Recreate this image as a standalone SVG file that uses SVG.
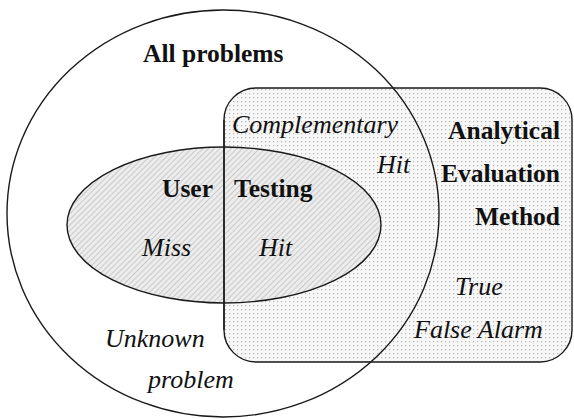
<svg xmlns="http://www.w3.org/2000/svg" width="574" height="419" viewBox="0 0 574 419">
<defs>
<pattern id="dots" width="4" height="4" patternUnits="userSpaceOnUse">
<rect width="4" height="4" fill="#f7f7f7"/>
<rect x="1" y="1" width="1.2" height="1.2" fill="#b8b8b8"/>
</pattern>
<pattern id="hatch" width="4" height="4" patternUnits="userSpaceOnUse" patternTransform="rotate(45)">
<rect width="4" height="4" fill="#ececec"/>
<line x1="0" y1="0" x2="0" y2="4" stroke="#a8a8a8" stroke-width="1"/>
</pattern>
<style>
.edge{fill:none;stroke:#1a1a1a;stroke-width:1.4}
text{font-family:'Liberation Serif','Times New Roman',Times,serif;fill:#111}
.b{font-weight:bold;font-size:25.5px}
.i{font-style:italic;font-size:26px}
.e{text-anchor:end}
</style>
</defs>
<rect width="574" height="419" fill="#ffffff"/>
<g id="analytical-fill">
<rect x="224" y="88" width="348" height="274" rx="32" ry="32" fill="url(#dots)"/>
</g>
<g id="user-testing-fill">
<ellipse cx="224" cy="225" rx="157" ry="78" fill="url(#hatch)"/>
</g>
<g id="all-problems">
<ellipse class="edge" cx="223" cy="213.5" rx="216" ry="203.5"/>
<text class="b" x="143" y="62" font-family="Liberation Serif">All problems</text>
<text class="i" x="105" y="347" font-family="Liberation Serif">Unknown</text>
<text class="i" x="148" y="388" font-family="Liberation Serif">problem</text>
</g>
<g id="analytical">
<rect class="edge" x="224" y="88" width="348" height="274" rx="32" ry="32" stroke-width="1.7"/>
<text class="b e" x="560" y="139" font-family="Liberation Serif">Analytical</text>
<text class="b e" x="560" y="182" font-family="Liberation Serif">Evaluation</text>
<text class="b e" x="560" y="225" font-family="Liberation Serif">Method</text>
<text class="i" x="232" y="133" font-family="Liberation Serif">Complementary</text>
<text class="i" x="377" y="173" font-family="Liberation Serif">Hit</text>
<text class="i" x="455" y="295" font-family="Liberation Serif">True</text>
<text class="i" x="414" y="338" font-family="Liberation Serif">False Alarm</text>
</g>
<g id="user-testing">
<ellipse class="edge" cx="224" cy="225" rx="157" ry="78"/>
<text class="b" x="162" y="197" font-family="Liberation Serif">User</text>
<text class="b" x="234" y="197" font-family="Liberation Serif">Testing</text>
<text class="i" x="142" y="256" font-family="Liberation Serif">Miss</text>
<text class="i" x="259" y="256" font-family="Liberation Serif">Hit</text>
</g>
<line class="edge" x1="224" y1="120" x2="224" y2="330"/>
</svg>
